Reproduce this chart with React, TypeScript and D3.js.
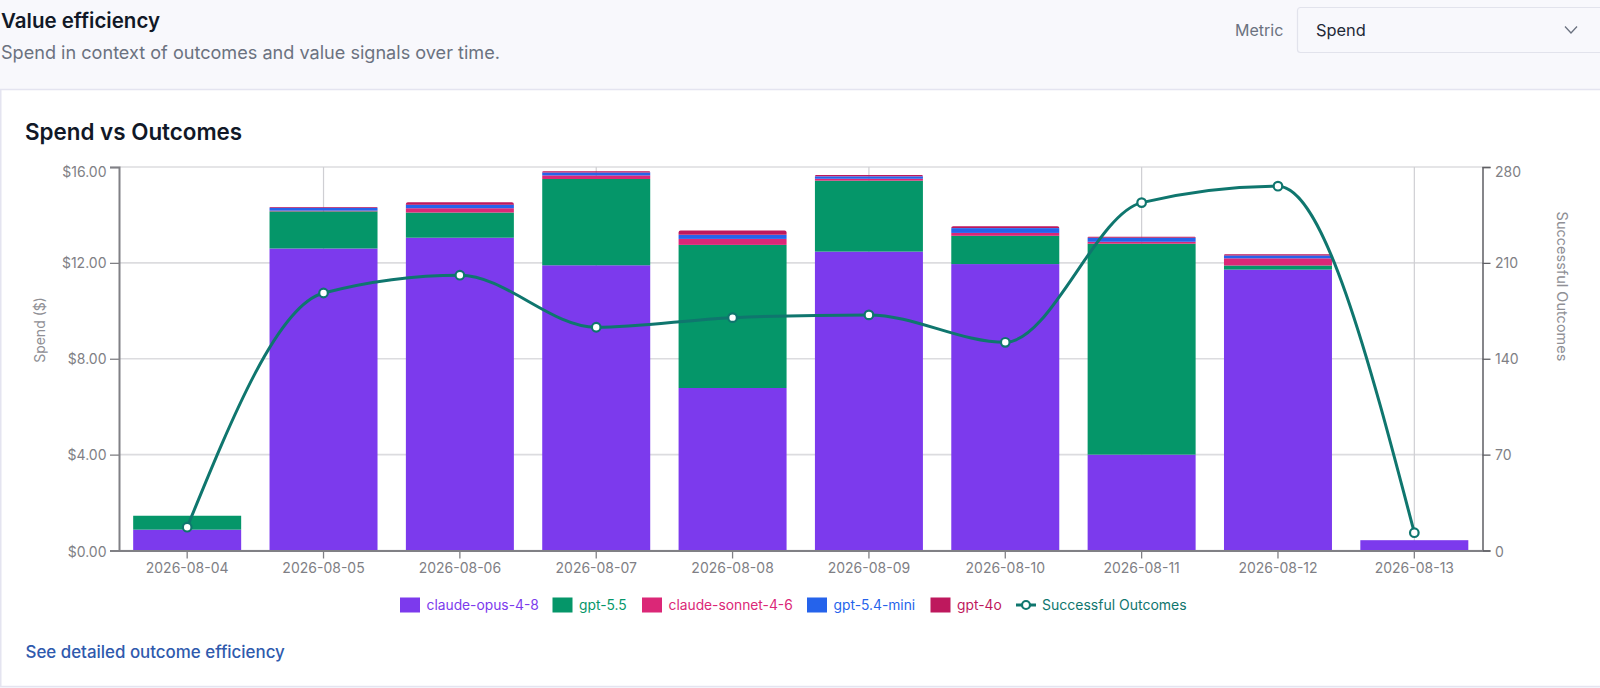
import React, { useEffect, useRef } from "react";
import * as d3 from "d3";

const dates = ["2026-08-04", "2026-08-05", "2026-08-06", "2026-08-07", "2026-08-08", "2026-08-09", "2026-08-10", "2026-08-11", "2026-08-12", "2026-08-13"];
const gridDates = ["2026-08-05", "2026-08-07", "2026-08-09", "2026-08-11", "2026-08-13"];
const models = ["claude-opus-4-8", "gpt-5.5", "claude-sonnet-4-6", "gpt-5.4-mini", "gpt-4o"];
const opus = [0.87, 12.6, 13.05, 11.9, 6.78, 12.47, 11.95, 4.0, 11.72, 0.43];
const gpt55 = [0.58, 1.55, 1.05, 3.6, 5.97, 2.96, 1.18, 8.8, 0.17, 0];
const sonnet = [0, 0.03, 0.18, 0.15, 0.25, 0.08, 0.12, 0.08, 0.3, 0];
const mini = [0, 0.12, 0.15, 0.12, 0.17, 0.1, 0.2, 0.17, 0.12, 0];
const gpt4o = [0, 0.03, 0.1, 0.05, 0.18, 0.06, 0.08, 0.04, 0.05, 0];
const outcomes = [17, 188, 201, 163, 170, 172, 152, 254, 266, 13];
const spendTicks = [0, 4, 8, 12, 16];
const outcomeTicks = [0, 70, 140, 210, 280];
const colors = ["#7c3aed", "#059669", "#db2777", "#2563eb", "#be185d"];
const lineColor = "#0f766e";
const legendX = [400, 552.5, 642, 807, 930.5];

const FONT = "Inter, sans-serif";

export default function App() {
    const ref = useRef<SVGSVGElement>(null);

    useEffect(() => {
        document.body.style.margin = "0";
        const svg = d3.select(ref.current);
        svg.selectAll("*").remove();

        const left = 119, right = 1482.5, top = 167, bottom = 550.5;

        const x = d3.scaleBand<string>().domain(dates).range([left, right]).paddingInner(0.208).paddingOuter(0.104);
        const y = d3.scaleLinear().domain([0, 16]).range([bottom, top]);
        const y2 = d3.scaleLinear().domain([0, 280]).range([bottom, top]);
        const cx = (d: string) => (x(d) as number) + x.bandwidth() / 2;

        // page header
        svg.append("rect").attr("width", 1600).attr("height", 688).attr("fill", "#f8f8fc");
        svg.append("rect").attr("x", 0.75).attr("y", 89.5).attr("width", 1620).attr("height", 597)
            .attr("fill", "#fff").attr("stroke", "#e4e4f0").attr("stroke-width", 1.5);

        const text = (t: string, tx: number, ty: number, size: number, fill: string, weight = 400) =>
            svg.append("text").attr("x", tx).attr("y", ty).attr("font-size", size).attr("fill", fill)
                .attr("font-weight", weight).attr("font-family", FONT).text(t);

        text("Value efficiency", 1, 28, 20.5, "#111827", 600);
        text("Spend in context of outcomes and value signals over time.", 1, 59, 18.1, "#6b7280");
        text("Metric", 1235, 36, 16, "#6b7280");
        svg.append("rect").attr("x", 1297.5).attr("y", 7.5).attr("width", 320).attr("height", 45).attr("rx", 3)
            .attr("fill", "#f8f8fc").attr("stroke", "#e2e3ec").attr("stroke-width", 1.2);
        text("Spend", 1316, 36, 16.4, "#1f2937");
        svg.append("path").attr("d", "M1565 26.5 L1571 33 L1577 26.5").attr("fill", "none").attr("stroke", "#6b7280").attr("stroke-width", 1.3);

        text("Spend vs Outcomes", 25, 139.5, 22.4, "#111827", 600);

        // grid
        svg.append("g").selectAll("line").data(spendTicks).join("line")
            .attr("x1", left).attr("x2", right).attr("y1", d => y(d)).attr("y2", d => y(d))
            .attr("stroke", "#dcdcdf").attr("stroke-width", 1.6);
        svg.append("g").selectAll("line").data(gridDates).join("line")
            .attr("x1", cx).attr("x2", cx).attr("y1", top).attr("y2", bottom)
            .attr("stroke", "#cfcfd3").attr("stroke-width", 1.2);

        // stacked bars
        const table = dates.map((d, i) => ({
            date: d,
            "claude-opus-4-8": opus[i],
            "gpt-5.5": gpt55[i],
            "claude-sonnet-4-6": sonnet[i],
            "gpt-5.4-mini": mini[i],
            "gpt-4o": gpt4o[i],
        }));
        const stacked = d3.stack<any>().keys(models)(table);
        stacked.forEach((layer, k) => {
            const segs = layer.filter(s => s[1] > s[0]);
            if (k === models.length - 1) {
                // top segment has slightly rounded corners
                svg.append("g").attr("fill", colors[k]).selectAll("path").data(segs).join("path")
                    .attr("d", s => {
                        const x0 = x(s.data.date) as number, x1 = x0 + x.bandwidth();
                        const y0 = y(s[0]), y1 = y(s[1]), r = Math.min(2, y0 - y1);
                        const p = d3.path();
                        p.moveTo(x0, y0);
                        p.lineTo(x0, y1 + r);
                        p.arcTo(x0, y1, x0 + r, y1, r);
                        p.lineTo(x1 - r, y1);
                        p.arcTo(x1, y1, x1, y1 + r, r);
                        p.lineTo(x1, y0);
                        p.closePath();
                        return p.toString();
                    });
                return;
            }
            svg.append("g").attr("fill", colors[k]).selectAll("rect")
                .data(segs)
                .join("rect")
                .attr("x", s => x(s.data.date) as number)
                .attr("width", x.bandwidth())
                .attr("y", s => y(s[1]))
                .attr("height", s => y(s[0]) - y(s[1]));
        });

        // axes
        const styleAxis = (g: any, color: string, width: number) => {
            g.selectAll("path").attr("stroke", color).attr("stroke-width", width);
            g.selectAll("line").attr("stroke", color).attr("stroke-width", 1.3);
            g.selectAll("text").attr("fill", "#7f7f85").attr("font-size", 14).attr("font-family", FONT);
        };
        // the top label sits a bit under its tick
        const nudgeTop = (g: any, topValue: number) =>
            g.selectAll("text").attr("dy", (d: number) => (d === topValue ? "0.68em" : d === 0 ? "0.4em" : "0.32em"));

        svg.append("g").attr("transform", `translate(${left},0)`)
            .call(d3.axisLeft(y).tickValues(spendTicks).tickFormat(d => `$${(d as number).toFixed(2)}`).tickSize(9).tickPadding(3.5))
            .call(styleAxis, "#808085", 2)
            .call(nudgeTop, 16);
        svg.append("g").attr("transform", `translate(${right},0)`)
            .call(d3.axisRight(y2).tickValues(outcomeTicks).tickSize(8).tickPadding(4.5))
            .call(styleAxis, "#5f5f64", 1.5)
            .call(nudgeTop, 280);
        svg.append("g").attr("transform", `translate(0,${bottom})`)
            .call(d3.axisBottom(x).tickSize(8).tickSizeOuter(0).tickPadding(5))
            .call(styleAxis, "#808085", 1.8);

        svg.append("text").attr("transform", "translate(45,330) rotate(-90)").attr("text-anchor", "middle")
            .attr("font-size", 14).attr("fill", "#8f8f95").attr("font-family", FONT).text("Spend ($)");
        svg.append("text").attr("transform", "translate(1557,286.5) rotate(90)").attr("text-anchor", "middle")
            .attr("font-size", 14.5).attr("fill", "#8f8f95").attr("font-family", FONT).text("Successful Outcomes");

        // outcomes line
        const line = d3.line<number>().x((_, i) => cx(dates[i])).y(d => y2(d)).curve(d3.curveMonotoneX);
        svg.append("path").datum(outcomes).attr("d", line).attr("fill", "none")
            .attr("stroke", lineColor).attr("stroke-width", 3);
        svg.append("g").selectAll("circle").data(outcomes).join("circle")
            .attr("cx", (_, i) => cx(dates[i])).attr("cy", d => y2(d)).attr("r", 4.3)
            .attr("fill", "#fff").attr("stroke", lineColor).attr("stroke-width", 2.2);

        // legend
        const legendY = 605;
        models.forEach((m, i) => {
            svg.append("rect").attr("x", legendX[i]).attr("y", legendY - 7.5).attr("width", 20).attr("height", 15).attr("fill", colors[i]);
            text(m, legendX[i] + 26.5, legendY + 5, 13.8, colors[i]);
        });
        svg.append("line").attr("x1", 1016).attr("x2", 1036).attr("y1", legendY).attr("y2", legendY)
            .attr("stroke", lineColor).attr("stroke-width", 3);
        svg.append("circle").attr("cx", 1026).attr("cy", legendY).attr("r", 4)
            .attr("fill", "#fff").attr("stroke", lineColor).attr("stroke-width", 2.2);
        text("Successful Outcomes", 1042, legendY + 5, 14, lineColor);

        text("See detailed outcome efficiency", 25.5, 657.5, 16.9, "#2f5aad", 500);
    }, []);

    return <svg ref={ref} width={1600} height={688} style={{ display: "block" }} />;
}
